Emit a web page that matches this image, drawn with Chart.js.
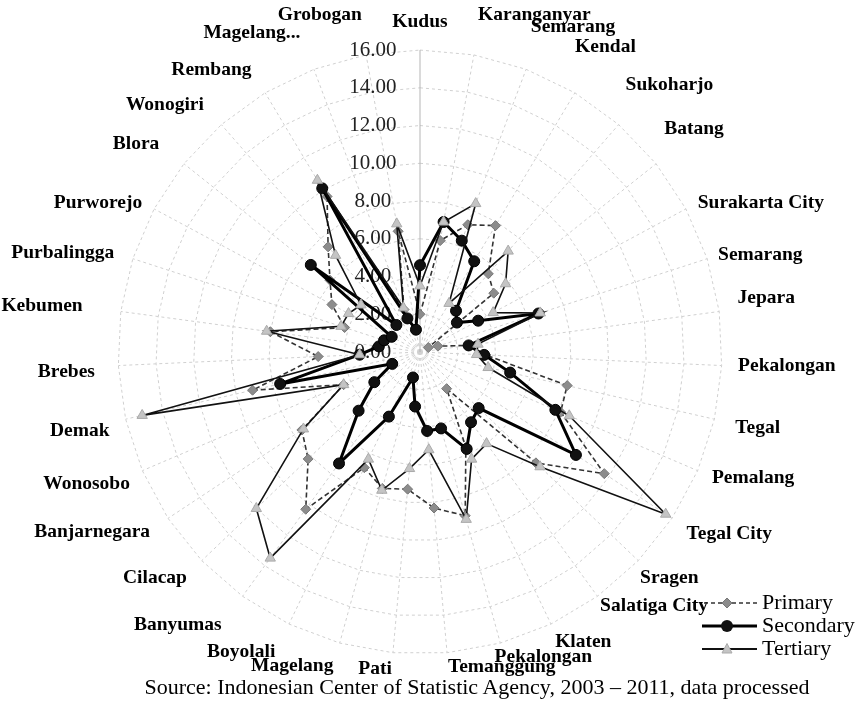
<!DOCTYPE html>
<html>
<head>
<meta charset="utf-8">
<script src="https://cdn.jsdelivr.net/npm/chart.js@4/dist/chart.umd.min.js"></script>
<style>
html,body{margin:0;padding:0;background:#fff;overflow:hidden;}
#wrap{position:relative;width:862px;height:707px;overflow:hidden;background:#fff;}
#c{position:absolute;left:-46px;top:-12px;}
#src{position:absolute;left:0;width:954px;top:675px;text-align:center;font:22px "Liberation Serif",serif;color:#000;white-space:nowrap;line-height:24px;}
</style>
</head>
<body>
<div id="wrap">
<canvas id="c" width="933" height="713"></canvas>
<div id="src">Source: Indonesian Center of Statistic Agency, 2003 – 2011, data processed</div>
</div>
<script>
// ---- data ----
const categories = ['Kudus','Karanganyar','Semarang','Kendal','Sukoharjo','Batang','Surakarta City','Semarang','Jepara','Pekalongan','Tegal','Pemalang','Tegal City','Sragen','Salatiga City','Klaten','Pekalongan','Temanggung','Pati','Magelang','Boyolali','Banyumas','Cilacap','Banjarnegara','Wonosobo','Demak','Brebes','Kebumen','Purbalingga','Purworejo','Blora','Wonogiri','Rembang','Magelang...','Grobogan'];
const primary   = [2.0, 6.0, 7.2, 7.8, 5.5, 5.0, 0.5, 1.0, 2.6, 3.5, 8.0, 8.1, 11.7, 8.5, 2.4, 5.6, 9.0, 8.3, 7.3, 7.5, 6.8, 10.3, 8.2, 7.5, 4.4, 9.1, 5.4, 8.0, 4.2, 5.3, 6.1, 7.4, 9.6, 2.4, 6.5];
const secondary = [4.6, 7.0, 6.3, 5.6, 2.9, 2.5, 3.5, 6.6, 2.6, 3.4, 4.9, 7.8, 9.9, 4.3, 4.6, 5.7, 4.2, 4.2, 2.9, 1.4, 3.8, 7.3, 4.5, 2.9, 1.6, 7.6, 3.2, 2.2, 2.0, 1.7, 7.4, 1.9, 10.1, 1.9, 1.2];
const tertiary  = [3.5, 7.0, 8.4, 3.0, 7.1, 5.8, 4.4, 6.7, 3.1, 3.0, 3.7, 8.6, 15.6, 8.8, 6.0, 6.3, 9.2, 5.2, 6.2, 7.6, 6.3, 13.5, 12.0, 7.4, 4.4, 15.1, 3.2, 8.2, 4.4, 4.3, 4.0, 6.8, 10.6, 2.5, 6.9];
const seriesNames = ['Primary','Secondary','Tertiary'];
const axisMax = 16;
const tickStep = 2;

// ---- point-label layout (style only): radial distance and line height per category ----
const labelDist = [320,325,315,302,312,312,315,313,320,318,323,317,319,304,306,311,280,311,313,325,333,337,322,323,315,318,325,340,321,315,333,328,328,340,325];
const labelLineH = [19.5,34,60,90,63,57,0,0,22,0,8,3,11,31,13,18,70,10,10,0,0,0,7,4,16,16,11,0,0,0,0,0,0,0,34];

// ---- legend symbols (line + marker) ----
function makeIcon(kind){
  const c = document.createElement('canvas');
  c.width = 62; c.height = 20;
  const g = c.getContext('2d');
  const y = 10, cx = 31;
  if (kind === 0) {
    g.strokeStyle = '#333'; g.lineWidth = 1.6; g.setLineDash([4,3]);
    g.beginPath(); g.moveTo(1,y); g.lineTo(61,y); g.stroke();
    g.setLineDash([]);
    g.fillStyle = '#8c8c8c'; g.strokeStyle = '#777'; g.lineWidth = 1;
    g.beginPath(); g.moveTo(cx,y-5); g.lineTo(cx+5,y); g.lineTo(cx,y+5); g.lineTo(cx-5,y); g.closePath(); g.fill(); g.stroke();
  } else if (kind === 1) {
    g.strokeStyle = '#000'; g.lineWidth = 3;
    g.beginPath(); g.moveTo(1,y); g.lineTo(61,y); g.stroke();
    g.fillStyle = '#111';
    g.beginPath(); g.arc(cx,y,6,0,Math.PI*2); g.fill();
  } else {
    g.strokeStyle = '#111'; g.lineWidth = 1.8;
    g.beginPath(); g.moveTo(1,y); g.lineTo(61,y); g.stroke();
    g.fillStyle = '#c4c4c4'; g.strokeStyle = '#aaa'; g.lineWidth = 1;
    g.beginPath(); g.moveTo(cx,y-5.5); g.lineTo(cx+5,y+4); g.lineTo(cx-5,y+4); g.closePath(); g.fill(); g.stroke();
  }
  return c;
}
const legendIcons = [makeIcon(0), makeIcon(1), makeIcon(2)];

// canvas is offset by (-46,-12) inside the page; legend box in canvas coordinates
const legendMover = {
  id: 'legendMover',
  afterLayout(chart) {
    const lg = chart.legend;
    if (!lg) return;
    lg.left = 748; lg.right = 933; lg.top = 603; lg.bottom = 700;
    lg.width = lg.right - lg.left; lg.height = lg.bottom - lg.top;
  }
};

const serif = 'Liberation Serif, Times New Roman, serif';

new Chart(document.getElementById('c'), {
  type: 'radar',
  data: {
    labels: categories,
    datasets: [
      { label: seriesNames[0], data: primary, order: 3, fill: false,
        borderColor: '#333', borderWidth: 1.6, borderDash: [5,3],
        pointStyle: 'rectRot', pointRadius: 5, pointBackgroundColor: '#8c8c8c', pointBorderColor: '#777', pointBorderWidth: 1 },
      { label: seriesNames[1], data: secondary, order: 2, fill: false,
        borderColor: '#000', borderWidth: 3,
        pointStyle: 'circle', pointRadius: 5.5, pointBackgroundColor: '#111', pointBorderColor: '#000', pointBorderWidth: 1 },
      { label: seriesNames[2], data: tertiary, order: 1, fill: false,
        borderColor: '#111', borderWidth: 1.6,
        pointStyle: 'triangle', pointRadius: 6, pointBackgroundColor: '#c4c4c4', pointBorderColor: '#aaa', pointBorderWidth: 1 }
    ]
  },
  options: {
    responsive: false,
    animation: false,
    devicePixelRatio: 1,
    layout: { padding: 0 },
    elements: { line: { tension: 0 } },
    scales: {
      r: {
        min: -0.001,
        max: axisMax,
        grid: { color: '#d0d0d0', lineWidth: 1 },
        border: { dash: [3,3] },
        angleLines: {
          color: (c) => c.index === 0 ? '#b5b5b5' : '#d0d0d0',
          lineWidth: 1,
          borderDash: (c) => c.index === 0 ? [] : [3,3]
        },
        ticks: {
          stepSize: tickStep,
          showLabelBackdrop: false,
          backdropPadding: 0,
          color: '#222',
          font: { family: serif, size: 21 },
          callback: (v) => Math.abs(v).toFixed(2) + '\u2007'.repeat(9)
        },
        pointLabels: {
          color: '#000',
          padding: (c) => labelDist[c.index] - 312,
          font: (c) => ({ family: serif, size: 19.5, weight: 'bold', lineHeight: labelLineH[c.index] + 'px' })
        }
      }
    },
    plugins: {
      tooltip: { enabled: false },
      title: { display: false },
      legend: {
        position: 'chartArea',
        align: 'start',
        labels: {
          usePointStyle: true,
          pointStyleWidth: 48,
          boxHeight: 22,
          padding: 1,
          color: '#000',
          font: { family: serif, size: 22 },
          generateLabels: (chart) => {
            const items = Chart.defaults.plugins.legend.labels.generateLabels(chart);
            items.sort((a,b) => a.datasetIndex - b.datasetIndex);
            items.forEach(it => { it.pointStyle = legendIcons[it.datasetIndex]; it.rotation = 0; });
            return items;
          }
        }
      }
    }
  },
  plugins: [legendMover]
});
</script>
</body>
</html>
